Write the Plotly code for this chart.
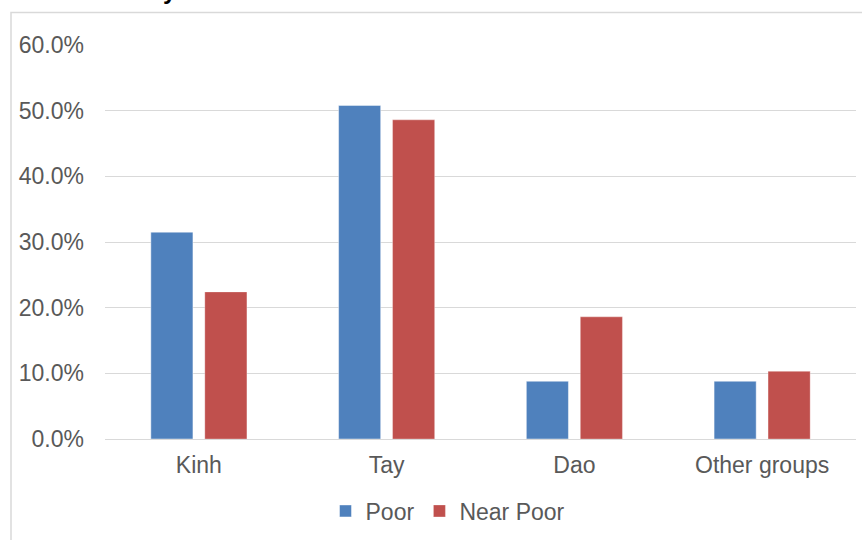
import plotly.graph_objects as go

categories = ["Kinh", "Tay", "Dao", "Other groups"]
poor = [0.315, 0.508, 0.088, 0.088]
near_poor = [0.224, 0.486, 0.186, 0.103]
y_ticks = [0.0, 0.1, 0.2, 0.3, 0.4, 0.5, 0.6]
y_tick_labels = ["0.0%", "10.0%", "20.0%", "30.0%", "40.0%", "50.0%", "60.0%"]

FONT = "Liberation Sans, Arial, sans-serif"
TXT = "#595959"
GRID = "#D9D9D9"

fig = go.Figure()
fig.add_trace(go.Bar(
    x=categories, y=poor, name="Poor",
    marker=dict(color="#4F81BD", line=dict(color="rgba(255,255,255,0.45)", width=1)),
))
fig.add_trace(go.Bar(
    x=categories, y=near_poor, name="Near Poor",
    marker=dict(color="#C0504D", line=dict(color="rgba(255,255,255,0.3)", width=1)),
))

W, H = 862, 540
L, R, T, B = 105, 6, 45, 101
pw, ph = W - L - R, H - T - B

def px_x(x):
    return (x - L) / pw

def px_y(y):
    return (H - B - y) / ph

fig.update_layout(
    width=W, height=H,
    margin=dict(l=L, r=R, t=T, b=B, pad=0),
    paper_bgcolor="white", plot_bgcolor="white",
    font=dict(family=FONT, size=23, color=TXT),
    barmode="group", bargap=0.425, bargroupgap=0.22,
    showlegend=True,
    legend=dict(
        orientation="h", x=px_x(448), y=px_y(511),
        xanchor="center", yanchor="middle",
        font=dict(size=23, color=TXT), itemwidth=30,
        traceorder="normal", bgcolor="rgba(0,0,0,0)",
    ),
    xaxis=dict(
        showgrid=False, showline=False, ticks="",
        ticklabelstandoff=10, tickfont=dict(size=23, color=TXT),
    ),
    yaxis=dict(
        range=[0, 0.6], tickvals=y_ticks, ticktext=y_tick_labels,
        showgrid=True, gridcolor=GRID, gridwidth=1.3,
        zeroline=True, zerolinecolor=GRID, zerolinewidth=1.3,
        showline=False, ticks="", ticklabelstandoff=20,
        tickfont=dict(size=23, color=TXT),
    ),
    shapes=[dict(
        type="rect", xref="paper", yref="paper",
        x0=px_x(11), x1=px_x(W + 20), y0=px_y(H + 20), y1=px_y(12.5),
        line=dict(color=GRID, width=1.5), fillcolor="rgba(0,0,0,0)", layer="below",
    )],
    annotations=[dict(
        text="<b>y</b>", xref="paper", yref="paper",
        x=px_x(179), y=px_y(6), xanchor="right", yanchor="bottom",
        showarrow=False, font=dict(size=24, color="black", family=FONT),
    )],
)

fig.write_html("out.html")
